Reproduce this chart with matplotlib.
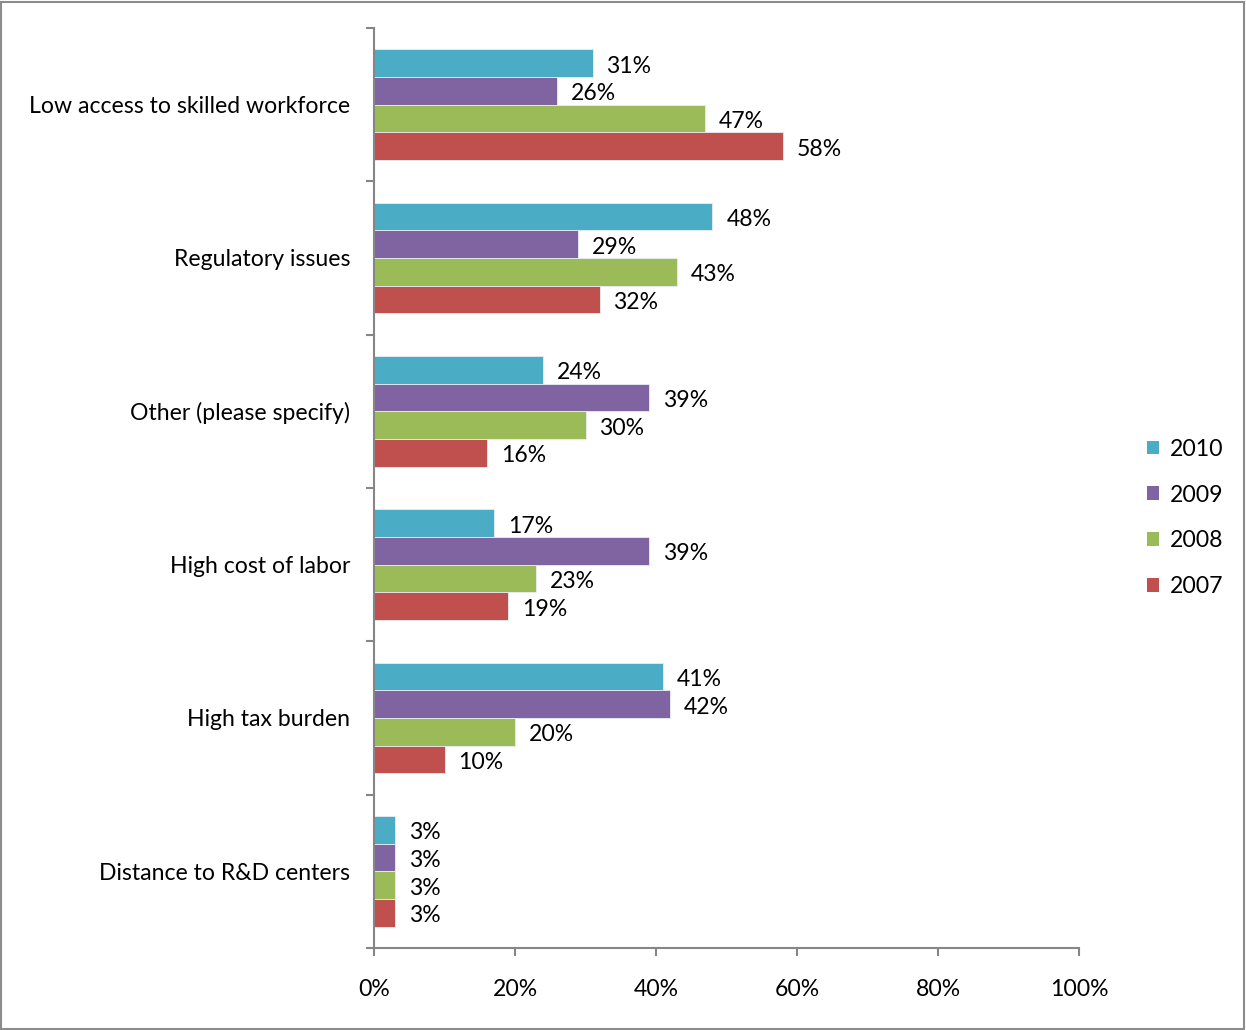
import matplotlib
matplotlib.use("Agg")
import matplotlib.pyplot as plt
from matplotlib.patches import Rectangle, Patch
from matplotlib.ticker import FixedLocator, FuncFormatter
import numpy as np

plt.rcParams['font.family'] = ['Lato', 'DejaVu Sans']

categories = [
    "Low access to skilled workforce",
    "Regulatory issues",
    "Other (please specify)",
    "High cost of labor",
    "High tax burden",
    "Distance to R&D centers",
]
years = ["2010", "2009", "2008", "2007"]
values_2010 = [31, 48, 24, 17, 41, 3]
values_2009 = [26, 29, 39, 39, 42, 3]
values_2008 = [47, 43, 30, 23, 20, 3]
values_2007 = [58, 32, 16, 19, 10, 3]
series = [values_2010, values_2009, values_2008, values_2007]
colors = ["#4BACC6", "#8064A2", "#9BBB59", "#C0504D"]
x_ticks = [0, 20, 40, 60, 80, 100]

W, H = 1246, 1030
fig = plt.figure(figsize=(W / 100, H / 100), dpi=100)
ax = fig.add_axes([374 / W, 1 - 948 / H, (1079 - 374) / W, (948 - 28) / H])

bar_h = 0.18
idx = np.arange(len(categories))
fs = 16.6
for j, (vals, col, yr) in enumerate(zip(series, colors, years)):
    ypos = idx + (j - 1.5) * bar_h
    bars = ax.barh(ypos, vals, height=bar_h, color=col, edgecolor="#e8eef4",
                   linewidth=0.6, label=yr)
    anns = ax.bar_label(bars, labels=[f"{v}%" for v in vals], padding=10,
                        fontsize=fs, color="#000000")
    for a in anns:
        a.xyann = (a.xyann[0], -2.2)

ax.set_xlim(0, 100)
ax.set_ylim(len(categories) - 0.5, -0.5)

axis_col = "#868686"
for side in ("top", "right"):
    ax.spines[side].set_visible(False)
for side in ("left", "bottom"):
    ax.spines[side].set_color(axis_col)
    ax.spines[side].set_linewidth(1.5)

ax.xaxis.set_major_locator(FixedLocator(x_ticks))
ax.xaxis.set_major_formatter(FuncFormatter(lambda v, p: f"{v:.0f}%"))
ax.tick_params(axis="x", length=5.5, width=1.5, color=axis_col, pad=17,
               labelsize=fs)

# category boundaries carry tick marks, centres carry the labels
ax.yaxis.set_major_locator(FixedLocator(np.arange(-0.5, len(categories), 1.0)))
ax.yaxis.set_major_formatter(FuncFormatter(lambda v, p: ""))
ax.yaxis.set_minor_locator(FixedLocator(idx))
ax.set_yticklabels(categories, minor=True)
ax.tick_params(axis="y", which="major", length=6, width=1.5, color=axis_col)
ax.tick_params(axis="y", which="minor", length=0, pad=17, labelsize=fs)

handles = [Patch(facecolor=c, edgecolor="none") for c in colors]
fig.legend(handles, years, loc="center left",
           bbox_to_anchor=(1135 / W, 1 - 518 / H), frameon=False,
           fontsize=fs, handlelength=0.55, handleheight=0.55,
           handletextpad=0.45, labelspacing=1.08, borderpad=0)

fig.patches.append(Rectangle((0.001, 0.001), 0.997, 0.997,
                             transform=fig.transFigure, fill=False,
                             edgecolor="#8c8c8c", linewidth=1.5))

fig.savefig("out.png", dpi=100, facecolor="white")
